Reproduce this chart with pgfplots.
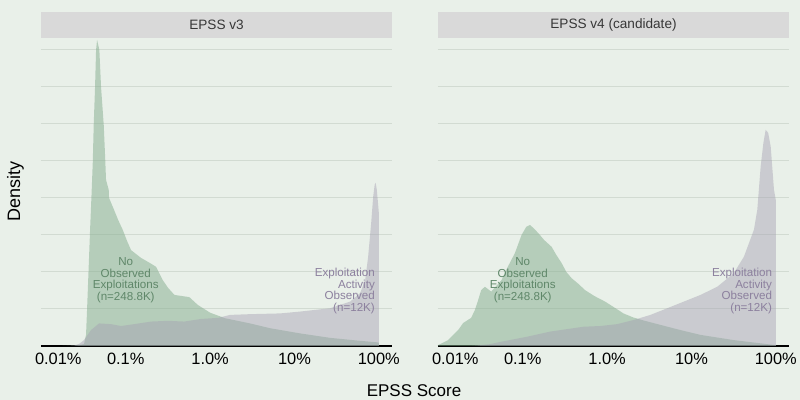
\documentclass[border=0pt]{standalone}
\usepackage{pgfplots}
\pgfplotsset{compat=1.18}
\usepackage{fontspec}
\setmainfont{Liberation Sans}
\definecolor{bg}{RGB}{233,240,233}
\definecolor{stripc}{RGB}{217,217,217}
\definecolor{gridc}{RGB}{210,219,210}
\definecolor{gfill}{RGB}{131,172,141}
\definecolor{pfill}{RGB}{165,160,178}
\definecolor{gtext}{RGB}{95,135,105}
\definecolor{ptext}{RGB}{140,128,158}
\definecolor{striptext}{RGB}{55,55,55}
\pgfplotsset{panel/.style={
  scale only axis, width=175.5pt, height=154pt,
  xmin=-2.005, xmax=2.157, ymin=0, ymax=8.32,
  axis x line*=bottom, axis y line*=left,
  x axis line style={black, line width=0.8pt, -},
  y axis line style={draw=none},
  ytick={1,2,3,4,5,6,7,8}, yticklabels={},
  ymajorgrids, major grid style={gridc, line width=0.5pt},
  tick style={draw=none}, major tick length=0pt,
  xtick={-1.8,-1,0,1,2},
  xticklabels={0.01\%,0.1\%,1.0\%,10\%,100\%},
  xticklabel style={font=\fontsize{8.2}{9}\selectfont, inner sep=0pt, anchor=north, yshift=-3.2pt},
  anchor=south west,
}}
\begin{document}
\begin{tikzpicture}
\path[use as bounding box, fill=bg] (0,0) rectangle (400pt,200pt);
% strips
\fill[stripc] (20.5pt,181pt) rectangle (196pt,194pt);
\node[striptext, font=\fontsize{6.8}{8}\selectfont] at (108.25pt,187.5pt) {EPSS v3};
\fill[stripc] (219pt,181pt) rectangle (394.5pt,194pt);
\node[striptext, font=\fontsize{6.8}{8}\selectfont] at (306.75pt,187.5pt) {EPSS v4 (candidate)};
% left panel
\begin{axis}[panel, at={(20.5pt,27pt)}]
\addplot[fill=gfill, fill opacity=0.5, draw=none] coordinates {
(-1.75,0) (-1.60,0.01) (-1.542,0.03) (-1.495,0.05) (-1.471,0.30) (-1.459,0.97) (-1.441,2.05) (-1.423,3.14) (-1.406,4.08) (-1.391,4.97) (-1.380,5.97) (-1.364,7.00) (-1.352,8.00) (-1.340,8.27) (-1.313,8.00) (-1.293,7.00) (-1.261,5.97) (-1.242,4.97) (-1.234,4.49) (-1.202,4.22) (-1.198,4.00) (-1.139,3.68) (-1.091,3.41) (-1.036,3.14) (-0.985,2.84) (-0.937,2.59) (-0.819,2.38) (-0.712,2.24) (-0.641,2.14) (-0.561,1.78) (-0.498,1.57) (-0.423,1.38) (-0.246,1.32) (-0.146,1.11) (0,0.90) (0.178,0.75) (0.474,0.61) (0.712,0.48) (1.068,0.34) (1.423,0.22) (1.779,0.14) (1.977,0.10) (2.0,0.09) (2.0,0)
} \closedcycle;
\addplot[fill=pfill, fill opacity=0.45, draw=none] coordinates {
(-1.70,0) (-1.613,0.01) (-1.55,0.06) (-1.495,0.16) (-1.412,0.43) (-1.317,0.61) (-1.174,0.59) (-1.056,0.54) (-0.902,0.59) (-0.700,0.66) (-0.498,0.68) (-0.308,0.66) (-0.107,0.73) (0.095,0.76) (0.237,0.84) (0.474,0.86) (0.830,0.88) (1.068,0.93) (1.423,1.02) (1.661,1.20) (1.779,1.43) (1.839,1.78) (1.874,2.41) (1.910,3.32) (1.934,4.04) (1.951,4.35) (1.963,4.41) (1.977,4.22) (1.993,3.81) (2.0,3.62) (2.0,0)
} \closedcycle;
\node[gtext, align=center, font=\fontsize{5.8}{5.75}\selectfont] at (axis cs:-1.0,1.78) {No\\Observed\\Exploitations\\(n=248.8K)};
\node[ptext, align=right, anchor=east, inner sep=0pt, font=\fontsize{5.8}{5.75}\selectfont] at (axis cs:1.958,1.48) {Exploitation\\Activity\\Observed\\(n=12K)};
\end{axis}
% right panel
\begin{axis}[panel, at={(219pt,27pt)}]
\addplot[fill=gfill, fill opacity=0.5, draw=none] coordinates {
(-2.005,0.02) (-1.885,0.16) (-1.766,0.43) (-1.707,0.62) (-1.612,0.76) (-1.568,0.97) (-1.529,1.24) (-1.493,1.51) (-1.449,1.60) (-1.374,1.47) (-1.252,1.78) (-1.184,2.11) (-1.093,2.51) (-1.014,3.00) (-0.958,3.22) (-0.915,3.27) (-0.875,3.19) (-0.816,3.05) (-0.745,2.86) (-0.658,2.68) (-0.602,2.46) (-0.539,2.24) (-0.483,2.00) (-0.420,1.83) (-0.341,1.68) (-0.261,1.51) (-0.151,1.35) (-0.024,1.20) (0.134,0.97) (0.194,0.88) (0.312,0.77) (0.432,0.69) (0.633,0.57) (0.871,0.43) (1.108,0.30) (1.500,0.16) (1.900,0.05) (2.0,0.02) (2.0,0)
} \closedcycle;
\addplot[fill=pfill, fill opacity=0.45, draw=none] coordinates {
(-1.60,0) (-1.544,0.01) (-1.386,0.05) (-1.267,0.11) (-0.950,0.25) (-0.673,0.39) (-0.281,0.52) (-0.080,0.54) (0.119,0.59) (0.312,0.70) (0.514,0.84) (0.713,1.02) (0.910,1.20) (1.108,1.38) (1.306,1.60) (1.500,1.96) (1.622,2.41) (1.741,3.14) (1.781,3.68) (1.821,4.85) (1.853,5.48) (1.880,5.84) (1.910,5.76) (1.940,5.39) (1.979,4.22) (2.0,3.95) (2.0,0)
} \closedcycle;
\node[gtext, align=center, font=\fontsize{5.8}{5.75}\selectfont] at (axis cs:-1.0,1.78) {No\\Observed\\Exploitations\\(n=248.8K)};
\node[ptext, align=right, anchor=east, inner sep=0pt, font=\fontsize{5.8}{5.75}\selectfont] at (axis cs:1.96,1.48) {Exploitation\\Activity\\Observed\\(n=12K)};
\end{axis}
% axis titles
\node[rotate=90, anchor=base, font=\fontsize{9}{10}\selectfont] at (10pt,104.2pt) {Density};
\node[anchor=base, font=\fontsize{8.5}{10}\selectfont] at (207pt,1.8pt) {EPSS Score};
\end{tikzpicture}
\end{document}
